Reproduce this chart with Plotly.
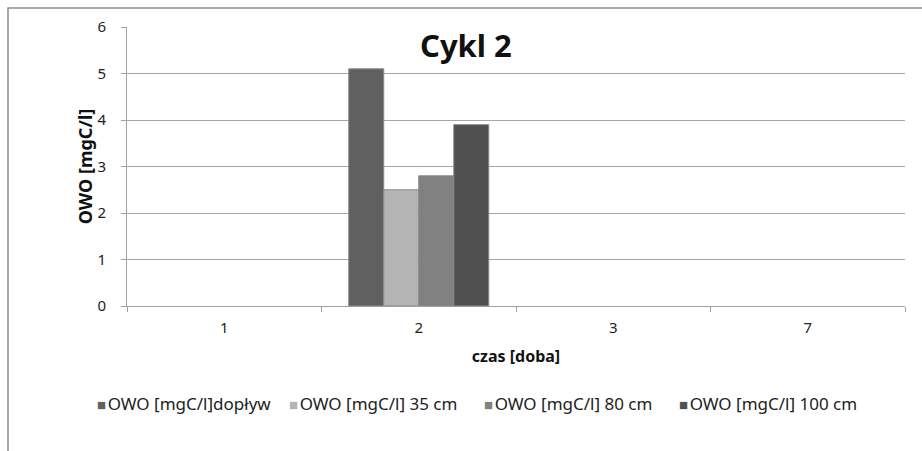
import plotly.graph_objects as go

categories = ["1", "2", "3", "7"]
series_names = ["OWO [mgC/l]dopływ", "OWO [mgC/l] 35 cm", "OWO [mgC/l] 80 cm", "OWO [mgC/l] 100 cm"]
dopl = [None, 5.1, None, None]
cm35 = [None, 2.5, None, None]
cm80 = [None, 2.8, None, None]
cm100 = [None, 3.9, None, None]
colors = ["#606060", "#b4b4b4", "#818181", "#505050"]

W, H = 922, 451
L, R, T, B = 127, 17, 27, 145
pw, ph = W - L - R, H - T - B

def px(x):
    return (x - L) / pw

def py(y):
    return (H - B - y) / ph

font = "Noto Sans"
fig = go.Figure()
for name, vals, c in zip(series_names, [dopl, cm35, cm80, cm100], colors):
    fig.add_trace(go.Bar(x=categories, y=vals, name=name, showlegend=False,
                         marker=dict(color=c, line=dict(color="#8a8a8a", width=1))))

legend_x = [95, 287, 482, 677]
annotations = [dict(text="<b>Cykl 2</b>", x=px(466), y=py(45), xref="paper", yref="paper",
                    xanchor="center", yanchor="middle",
                    showarrow=False, font=dict(size=31, color="#111111"))]
for name, c, lx in zip(series_names, colors, legend_x):
    annotations.append(dict(
        text=f"<span style='color:{c};font-size:15px'>■</span><span style='font-size:6px'> </span>{name}",
        x=px(lx), y=py(403), xref="paper", yref="paper", xanchor="left", yanchor="middle",
        showarrow=False, font=dict(size=17, color="#222222", family=font)))

fig.update_layout(
    width=W, height=H,
    margin=dict(l=L, r=R, t=T, b=B),
    paper_bgcolor="white", plot_bgcolor="white",
    barmode="group", bargap=0.28, bargroupgap=0,
    font=dict(family=font, color="#222222", size=13),
    showlegend=False,
    xaxis=dict(type="category", showline=True, linecolor="#a0a0a0", linewidth=1,
               ticks="outside", tickson="boundaries", ticklen=5, tickcolor="#a0a0a0",
               ticklabelstandoff=8,
               tickfont=dict(size=15, color="#222222"), showgrid=False,
               title=dict(text="<b>czas [doba]</b>", font=dict(size=16, color="#111111"), standoff=14)),
    yaxis=dict(range=[0, 6], dtick=1, showline=True, linecolor="#a0a0a0", linewidth=1,
               ticks="outside", ticklen=5, tickcolor="#a0a0a0", ticklabelstandoff=12,
               gridcolor="#a6a6a6", gridwidth=1, zeroline=False,
               tickfont=dict(size=15, color="#222222"),
               title=dict(text="<b>OWO [mgC/l]</b>", font=dict(size=18, color="#111111"), standoff=0)),
    annotations=annotations,
    shapes=[dict(type="rect", xref="paper", yref="paper",
                 x0=px(8), x1=px(940), y0=py(470), y1=py(8),
                 line=dict(color="#8c8c8c", width=1.5), layer="below")],
)

fig.write_html("out.html")
